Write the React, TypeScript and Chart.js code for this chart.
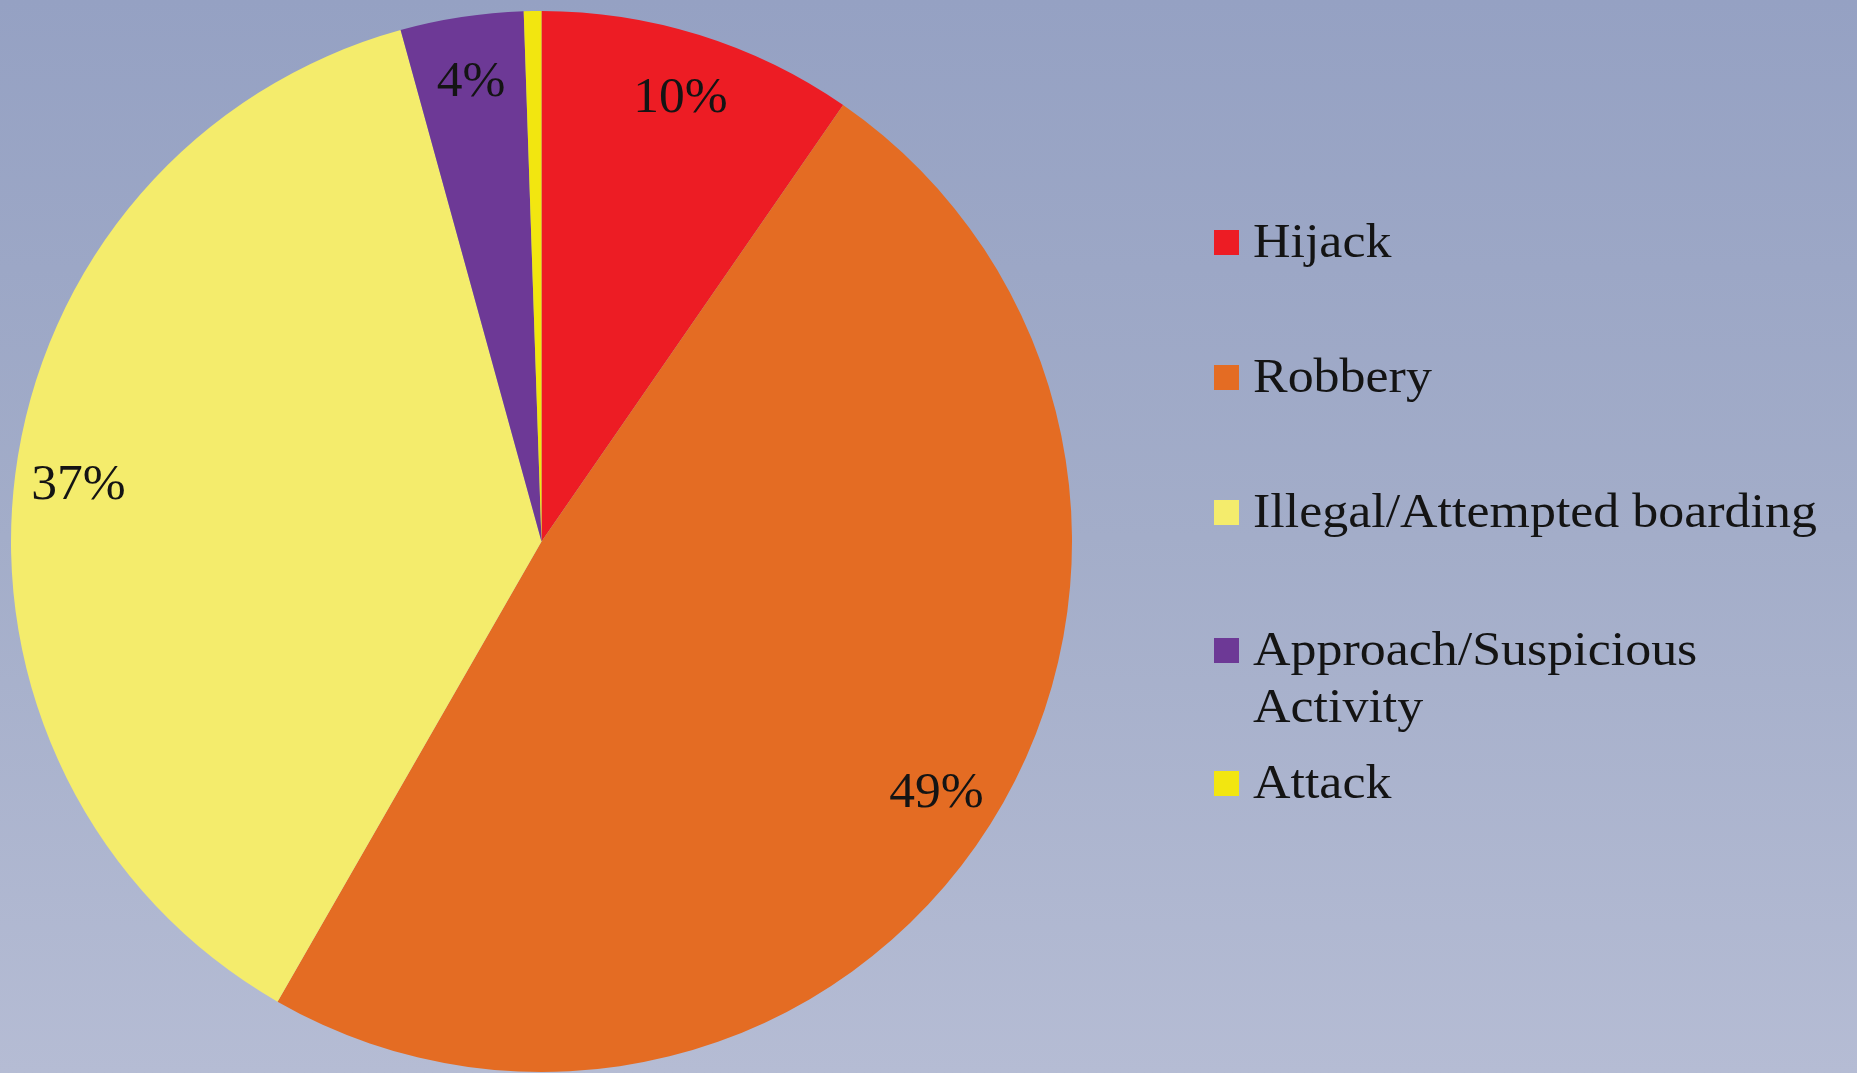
import React, { useEffect, useRef } from "react";
import { Chart, registerables } from "chart.js";

Chart.register(...registerables);

// ---- data ----
const categories = [
  "Hijack",
  "Robbery",
  "Illegal/Attempted boarding",
  "Approach/Suspicious Activity",
  "Attack",
];
const incidentCounts = [18, 91, 70, 7, 1];
const sliceColors = ["#ed1c24", "#e46c23", "#f4ec6c", "#6d3996", "#f2e610"];

// ---- layout / style ----
const W = 1857;
const H = 1073;
const FONT = '"Liberation Serif", "Times New Roman", serif';
const LABEL_FONT_SIZE = 50;
const LABEL_STRETCH = 1.03;
const LEGEND_FONT_SIZE = 49;
const LEGEND_STRETCH = 1.06;
const TEXT_COLOR = "#141414";
const LEGEND_BASELINES = [257, 392, 527, 665, 798];
const LEGEND_BOX_X = 1214;
const LEGEND_BOX_SIZE = 25;
const LEGEND_TEXT_X = 1253;
const LEGEND_LINE_H = 57;
const LEGEND_MAX_W = 590;
const LABEL_RADIUS = 0.88;

const backgroundPlugin = {
  id: "bgGradient",
  beforeDraw(chart: any) {
    const ctx = chart.ctx;
    const g = ctx.createLinearGradient(0, 0, 0, chart.height);
    g.addColorStop(0, "#95a1c3");
    g.addColorStop(0.5, "#a3adc9");
    g.addColorStop(1, "#b5bcd4");
    ctx.save();
    ctx.fillStyle = g;
    ctx.fillRect(0, 0, chart.width, chart.height);
    ctx.restore();
  },
};

function drawStretched(ctx: CanvasRenderingContext2D, text: string, x: number, y: number, sx: number) {
  ctx.save();
  ctx.translate(x, y);
  ctx.scale(sx, 1);
  ctx.fillText(text, 0, 0);
  ctx.restore();
}

const percentLabelPlugin = {
  id: "percentLabels",
  afterDatasetsDraw(chart: any) {
    const ctx = chart.ctx;
    const data: number[] = chart.data.datasets[0].data;
    const total = data.reduce((a, b) => a + b, 0);
    const meta = chart.getDatasetMeta(0);
    ctx.save();
    ctx.font = `${LABEL_FONT_SIZE}px ${FONT}`;
    ctx.fillStyle = TEXT_COLOR;
    ctx.textAlign = "center";
    ctx.textBaseline = "alphabetic";
    meta.data.forEach((arc: any, i: number) => {
      const frac = (data[i] / total) * 100;
      if (frac < 1) return;
      const pct = Math.round(frac);
      const p = arc.getProps(["x", "y", "startAngle", "endAngle", "outerRadius"], true);
      const mid = (p.startAngle + p.endAngle) / 2;
      const r = p.outerRadius * LABEL_RADIUS;
      const cx = p.x + Math.cos(mid) * r;
      const cy = p.y + Math.sin(mid) * r;
      drawStretched(ctx, `${pct}%`, cx, cy + LABEL_FONT_SIZE * 0.33, LABEL_STRETCH);
    });
    ctx.restore();
  },
};

function wrapText(ctx: CanvasRenderingContext2D, text: string, maxW: number, sx: number): string[] {
  const words = text.split(" ");
  const lines: string[] = [];
  let cur = "";
  for (const w of words) {
    const test = cur ? cur + " " + w : w;
    if (cur && ctx.measureText(test).width * sx > maxW) {
      lines.push(cur);
      cur = w;
    } else {
      cur = test;
    }
  }
  if (cur) lines.push(cur);
  return lines;
}

const legendPlugin = {
  id: "customLegend",
  afterDraw(chart: any) {
    const ctx = chart.ctx;
    const labels: string[] = chart.data.labels;
    const colors: string[] = chart.data.datasets[0].backgroundColor;
    ctx.save();
    ctx.font = `${LEGEND_FONT_SIZE}px ${FONT}`;
    ctx.textAlign = "left";
    ctx.textBaseline = "alphabetic";
    labels.forEach((label, i) => {
      const base = LEGEND_BASELINES[i];
      ctx.fillStyle = colors[i];
      ctx.fillRect(LEGEND_BOX_X, base - 27, LEGEND_BOX_SIZE, LEGEND_BOX_SIZE);
      ctx.fillStyle = TEXT_COLOR;
      const lines = wrapText(ctx, label, LEGEND_MAX_W, LEGEND_STRETCH);
      lines.forEach((line, j) => {
        drawStretched(ctx, line, LEGEND_TEXT_X, base + j * LEGEND_LINE_H, LEGEND_STRETCH);
      });
    });
    ctx.restore();
  },
};

export default function App() {
  const canvasRef = useRef<HTMLCanvasElement | null>(null);

  useEffect(() => {
    if (!canvasRef.current) return;
    const chart = new Chart(canvasRef.current, {
      type: "pie",
      data: {
        labels: categories,
        datasets: [
          {
            data: incidentCounts,
            backgroundColor: sliceColors,
            borderWidth: 0,
          },
        ],
      },
      options: {
        responsive: false,
        animation: false,
        devicePixelRatio: 1,
        layout: { padding: { left: 11, top: 11, right: W - 1072, bottom: 1 } },
        plugins: {
          legend: { display: false },
          tooltip: { enabled: false },
          title: { display: false },
        },
      },
      plugins: [backgroundPlugin, percentLabelPlugin, legendPlugin],
    });
    return () => chart.destroy();
  }, []);

  return (
    <div style={{ position: "fixed", left: 0, top: 0, width: W, height: H }}>
      <canvas ref={canvasRef} width={W} height={H} style={{ display: "block" }} />
    </div>
  );
}
